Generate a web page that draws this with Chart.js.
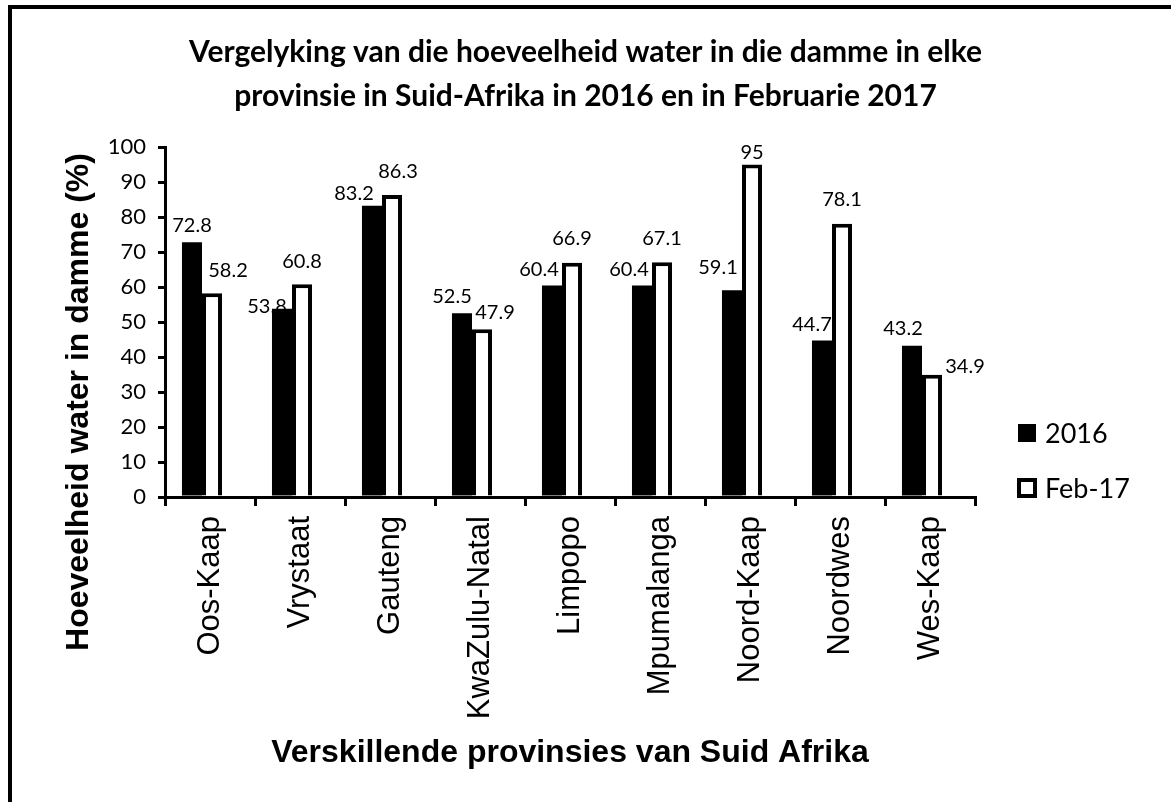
<!DOCTYPE html>
<html>
<head>
<meta charset="utf-8">
<title>Damme in Suid-Afrika</title>
<script src="https://cdn.jsdelivr.net/npm/chart.js@4.4.0/dist/chart.umd.min.js"></script>
<style>
    html, body { margin: 0; padding: 0; background: #fff; overflow: hidden; }
    #wrap { position: relative; width: 1171px; height: 802px; }
    /* outer frame: only top and left edges are visible in the original crop */
    #frame {
        position: absolute; left: 8px; top: 5px; width: 1400px; height: 1000px;
        border: 4px solid #000; box-sizing: border-box; pointer-events: none;
    }
</style>
</head>
<body>
<div id="wrap">
    <canvas id="damChart" width="1171" height="802"></canvas>
    <div id="frame"></div>
</div>
<script>
/* ============================
   Data
   ============================ */
const provinces = ['Oos-Kaap', 'Vrystaat', 'Gauteng', 'KwaZulu-Natal', 'Limpopo', 'Mpumalanga', 'Noord-Kaap', 'Noordwes', 'Wes-Kaap'];
const values2016 = [72.8, 53.8, 83.2, 52.5, 60.4, 60.4, 59.1, 44.7, 43.2];
const valuesFeb17 = [58.2, 60.8, 86.3, 47.9, 66.9, 67.1, 95, 78.1, 34.9];
const seriesNames = ['2016', 'Feb-17'];
const yTickValues = [0, 10, 20, 30, 40, 50, 60, 70, 80, 90, 100];

const titleLines = [
    'Vergelyking van die hoeveelheid water in die damme in elke',
    'provinsie in Suid-Afrika in 2016 en in Februarie 2017'
];
const xTitle = 'Verskillende provinsies van Suid Afrika';
const yTitle = 'Hoeveelheid water in damme (%)';

/* ============================
   Styling
   ============================ */
const calibriLike = 'Lato';
const arialLike = '"Liberation Sans", Arial';

// data labels were hand-placed in the original, nudge (dx, dy) from bar top centre
const labelNudge2016 = [[0, -17], [-15, -2], [-18, -12], [-10, -17], [-13, -16], [-13, -16], [-14, -23], [-10, -16], [-9, -17]];
const labelNudgeFeb17 = [[16, -23], [0, -23], [6, -23], [13, -17], [0, -24], [0, -24], [0, -12], [0, -24], [33, -8]];

// bar pairs sit slightly left of the category centre
const barShift = -8;

const damExtras = {
    id: 'damExtras',
    beforeDatasetsDraw(chart) {
        chart.ctx.save();
        chart.ctx.translate(barShift, 0);
    },
    afterDatasetsDraw(chart) {
        const ctx = chart.ctx;
        const nudges = [labelNudge2016, labelNudgeFeb17];
        ctx.font = '20px ' + calibriLike;
        ctx.fillStyle = '#000';
        ctx.textAlign = 'center';
        ctx.textBaseline = 'middle';
        chart.data.datasets.forEach((ds, i) => {
            chart.getDatasetMeta(i).data.forEach((bar, j) => {
                const [dx, dy] = nudges[i][j];
                ctx.fillText(String(ds.data[j]), bar.x + dx, bar.y + dy);
            });
        });
        ctx.restore();
    },
    afterDraw(chart) {
        const ctx = chart.ctx;

        // y axis title, centred lower than the plot like in the original
        ctx.save();
        ctx.translate(88, 402);
        ctx.rotate(-Math.PI / 2);
        ctx.font = 'bold 32px ' + arialLike;
        ctx.fillStyle = '#000';
        ctx.textAlign = 'center';
        ctx.textBaseline = 'alphabetic';
        ctx.fillText(yTitle, 0, 0);
        ctx.restore();

        // legend
        const rows = [433, 488];
        ctx.save();
        ctx.font = '27px ' + calibriLike;
        ctx.textAlign = 'left';
        ctx.textBaseline = 'middle';
        chart.data.datasets.forEach((ds, i) => {
            const cy = rows[i];
            if (i === 0) {
                ctx.fillStyle = '#000';
                ctx.fillRect(1018, cy - 9, 18, 18);
            } else {
                ctx.fillStyle = '#fff';
                ctx.fillRect(1019, cy - 8, 16, 16);
                ctx.strokeStyle = '#000';
                ctx.lineWidth = 4;
                ctx.strokeRect(1019, cy - 8, 16, 16);
            }
            ctx.fillStyle = '#000';
            ctx.fillText(ds.label, 1045, cy + 1);
        });
        ctx.restore();
    }
};

new Chart(document.getElementById('damChart'), {
    type: 'bar',
    data: {
        labels: provinces,
        datasets: [
            {
                label: seriesNames[0],
                data: values2016,
                backgroundColor: '#000',
                borderWidth: 0,
                categoryPercentage: 0.445,
                barPercentage: 1.0
            },
            {
                label: seriesNames[1],
                data: valuesFeb17,
                backgroundColor: '#fff',
                borderColor: '#000',
                borderWidth: 4,
                borderSkipped: 'bottom',
                categoryPercentage: 0.445,
                barPercentage: 1.0
            }
        ]
    },
    options: {
        responsive: false,
        animation: false,
        layout: { padding: { top: 30, left: 0, right: 0, bottom: 20 } },
        plugins: {
            legend: { display: false },
            tooltip: { enabled: false },
            title: {
                display: true,
                text: titleLines,
                color: '#000',
                font: { family: calibriLike, size: 30, weight: 'bold', lineHeight: '44px' },
                padding: { top: 0, bottom: 29 }
            }
        },
        scales: {
            x: {
                z: 1,
                grid: { display: true, drawOnChartArea: false, drawTicks: true, tickLength: 9, color: '#000', lineWidth: 3, offset: true },
                border: { display: true, color: '#000', width: 3 },
                ticks: {
                    color: '#000',
                    font: { family: arialLike, size: 31 },
                    minRotation: 90,
                    maxRotation: 90,
                    autoSkip: false,
                    padding: 10
                },
                title: {
                    display: true,
                    text: xTitle,
                    color: '#000',
                    font: { family: arialLike, size: 32, weight: 'bold', lineHeight: 1.2 },
                    padding: { top: 0, bottom: 10 }
                },
                afterFit: s => { s.height = 285; }
            },
            y: {
                min: 0,
                max: 100,
                grid: { drawOnChartArea: false, drawTicks: true, tickLength: 7, color: '#000', lineWidth: 3 },
                border: { display: true, color: '#000', width: 3 },
                ticks: { color: '#000', font: { family: calibriLike, size: 22 }, padding: 12 },
                afterBuildTicks: s => { s.ticks = yTickValues.map(v => ({ value: v })); },
                afterFit: s => { s.width = 165; }
            },
            // empty right-hand strip that leaves room for the legend
            legendSpace: {
                type: 'linear',
                position: 'right',
                grid: { display: false },
                border: { display: false },
                ticks: { display: false },
                afterFit: s => { s.width = 196; }
            }
        }
    },
    plugins: [damExtras]
});
</script>
</body>
</html>
